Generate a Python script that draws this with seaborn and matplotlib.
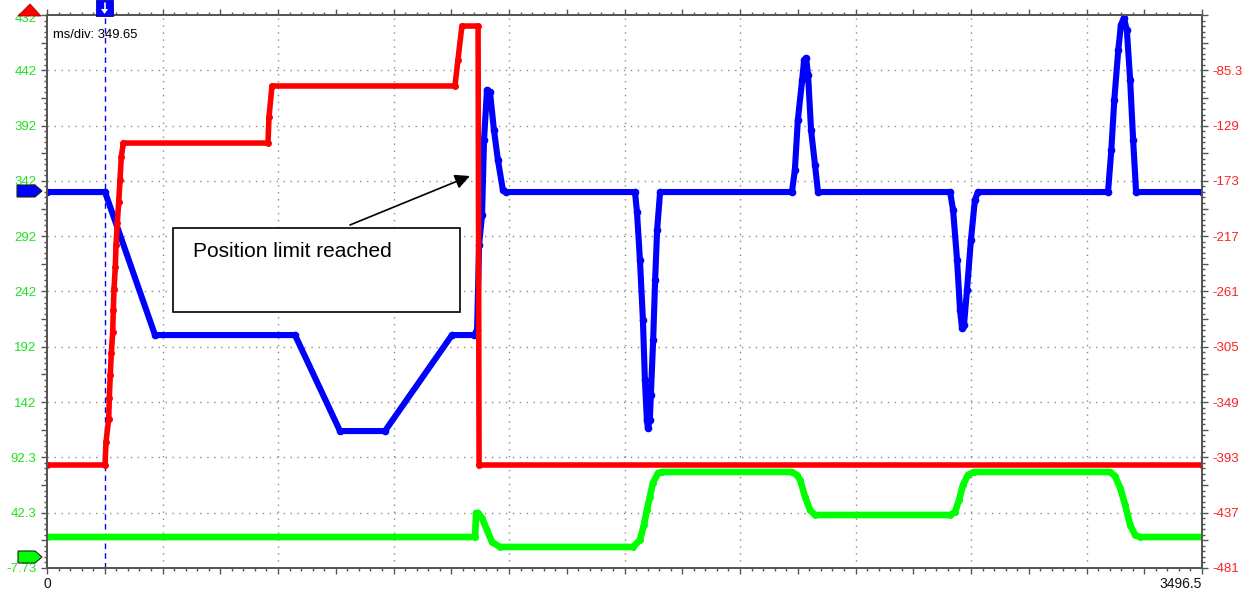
import numpy as np
import pandas as pd
import matplotlib
matplotlib.use("Agg")
import matplotlib.pyplot as plt
import matplotlib.transforms as mtransforms
import seaborn as sns
from matplotlib.patches import Polygon, Rectangle
from matplotlib.ticker import FixedLocator, FixedFormatter, MultipleLocator

# ---------------- data ----------------
MS_PER_DIV = 349.65
T_END = 3496.5

blue_t = [0, 175.6, 327, 750.8, 887, 1023, 1226, 1293, 1302, 1308, 1317, 1323, 1332, 1341,
          1353, 1365, 1380, 1390,
          1780, 1786, 1795, 1804, 1810, 1816, 1819, 1825, 1828, 1835, 1841, 1847, 1856,
          2255, 2264, 2273, 2286, 2292, 2298, 2304, 2313, 2325, 2334,
          2734, 2743, 2755, 2764, 2770, 2776, 2785, 2797, 2809, 2818,
          3212, 3222, 3231, 3243, 3251, 3260, 3269, 3279, 3288, 3297, 3496.5]
blue_v = [332.2, 332.2, 202.9, 202.9, 116.1, 116.1, 202.9, 202.9, 207.5, 284.3, 311.5, 379.3,
          424.5, 422.7, 388.3, 361.2, 334.1, 332.2,
          332.2, 314.2, 270.7, 216.5, 162.3, 126.1, 118.8, 126.1, 148.7, 198.4, 252.7, 297.9, 332.2,
          332.2, 352.1, 397.3, 433.5, 451.6, 453.4, 438.0, 388.3, 356.6, 332.2,
          332.2, 315.9, 270.7, 225.5, 209.3, 212.0, 243.6, 288.8, 325.0, 332.2,
          332.2, 370.2, 415.4, 460.6, 483.2, 489.6, 478.7, 433.5, 379.3, 332.2, 332.2]

red_t = [0, 175.6, 178.6, 186.8, 188.6, 191.6, 194.7, 198.9, 200.7, 202.8, 206.8, 208.9, 212.8,
         217.1, 221.0, 224.9, 231.0, 669.0, 672.0, 681.1, 1235, 1244, 1256, 1305, 1308, 3496.5]
red_v = [85.4, 85.4, 106.2, 127.0, 146.0, 166.8, 186.7, 205.6, 225.5, 244.5, 264.4, 284.3, 304.2,
         323.2, 343.1, 363.9, 376.5, 376.5, 400.0, 428.1, 428.1, 451.6, 482.3, 482.3, 85.4, 85.4]

green_t = [0, 1296, 1299, 1305, 1317, 1332, 1347, 1371,
           1774, 1795, 1807, 1816, 1825, 1834, 1850, 1862,
           2255, 2270, 2280, 2295, 2310, 2325,
           2734, 2749, 2761, 2773, 2788, 2806,
           3218, 3233, 3249, 3264, 3279, 3294, 3309, 3496.5]
green_v = [20.3, 20.3, 42.0, 42.0, 37.5, 26.6, 15.8, 11.3,
           11.3, 17.6, 31.2, 44.7, 56.5, 69.1, 78.2, 79.1,
           79.1, 76.4, 71.8, 56.5, 44.7, 40.2,
           40.2, 42.9, 53.8, 67.3, 76.4, 79.1,
           79.1, 75.5, 64.6, 49.2, 31.2, 22.1, 20.3, 20.3]

left_labels = ["-7.73", "42.3", "92.3", "142", "192", "242", "292", "342", "392", "442", "432"]
right_labels = ["-481", "-437", "-393", "-349", "-305", "-261", "-217", "-173", "-129", "-85.3", ""]
LEFT_MIN, LEFT_STEP = -7.73, 50.0
RIGHT_MIN, RIGHT_STEP = -481.0, 43.967
cursor_t = 175.6

# ---------------- style ----------------
sns.set_style("white")
plt.rcParams["font.family"] = ["Liberation Sans", "DejaVu Sans"]

W, H = 1253, 592
fig = plt.figure(figsize=(W / 100, H / 100), dpi=100)
L, R, T, B = 47, 1202, 15, 568
ax = fig.add_axes([L / W, 1 - B / H, (R - L) / W, (B - T) / H])

def fx(px):
    return px / W

def fy(py):
    return 1 - py / H

ax.set_xlim(0, T_END)
ax.set_ylim(LEFT_MIN, LEFT_MIN + 10 * LEFT_STEP)

# grid (manual, dotted)
for k in range(1, 10):
    ax.axvline(k * MS_PER_DIV, color="#8a8a8a", lw=1.0, ls=(0, (1, 4)), zorder=0)
    ax.axhline(LEFT_MIN + k * LEFT_STEP, color="#8a8a8a", lw=1.0, ls=(0, (1, 4)), zorder=0)

# cursor line
ax.axvline(cursor_t, color="#0000ff", lw=1.0, ls=(0, (4, 3)), zorder=1)

sns.lineplot(x=green_t, y=green_v, ax=ax, color="#00ff00", lw=4.8, marker="o",
             markersize=5, markeredgewidth=0, estimator=None, sort=False, zorder=2)
sns.lineplot(x=blue_t, y=blue_v, ax=ax, color="#0000ff", lw=4.4, marker="o",
             markersize=5.5, markeredgewidth=0, estimator=None, sort=False, zorder=3)
sns.lineplot(x=red_t, y=red_v, ax=ax, color="#ff0000", lw=4.0, marker="o",
             markersize=5, markeredgewidth=0, estimator=None, sort=False, zorder=4)

# ticks: x
x_major = [k * MS_PER_DIV / 2 for k in range(21)]
x_lab = [""] * 21
x_lab[0] = "0"
x_lab[-1] = "3496.5"
ax.xaxis.set_major_locator(FixedLocator(x_major))
ax.xaxis.set_major_formatter(FixedFormatter(x_lab))
ax.xaxis.set_minor_locator(MultipleLocator(MS_PER_DIV / 10))

# ticks: left y
y_major = [LEFT_MIN + k * LEFT_STEP / 2 for k in range(21)]
y_lab = [""] * 21
for i, s in enumerate(left_labels):
    y_lab[2 * i] = s
ax.yaxis.set_major_locator(FixedLocator(y_major))
ax.yaxis.set_major_formatter(FixedFormatter(y_lab))
ax.yaxis.set_minor_locator(FixedLocator([LEFT_MIN + k * LEFT_STEP / 10 for k in range(101)]))

spine_c = "#555555"
for s in ax.spines.values():
    s.set_color(spine_c)
    s.set_linewidth(1.3)

ax.tick_params(axis="both", which="major", direction="out", length=4.5, width=1.0, color=spine_c,
               labelsize=9.5)
ax.tick_params(axis="both", which="minor", direction="out", length=2.2, width=1.0, color=spine_c)
ax.tick_params(axis="x", which="both", top=True, bottom=True)
ax.tick_params(axis="x", which="major", pad=2, labelcolor="#111111", labelsize=10)
ax.tick_params(axis="y", which="major", pad=3, labelcolor="#22e022")
ax.set_xlabel("")
ax.set_ylabel("")

for lbl in ax.get_xticklabels():
    if lbl.get_text() == "3496.5":
        lbl.set_ha("right")

# top-left label sits slightly lower in the reference (partly under the red marker)
shift = mtransforms.ScaledTranslation(0, -3 / 100, fig.dpi_scale_trans)
for lbl in ax.get_yticklabels():
    if lbl.get_text() == "432":
        lbl.set_transform(lbl.get_transform() + shift)

# right axis
ax2 = ax.twinx()
ax2.set_ylim(RIGHT_MIN, RIGHT_MIN + 10 * RIGHT_STEP)
r_major = [RIGHT_MIN + k * RIGHT_STEP / 2 for k in range(21)]
r_lab = [""] * 21
for i, s in enumerate(right_labels):
    r_lab[2 * i] = s
ax2.yaxis.set_major_locator(FixedLocator(r_major))
ax2.yaxis.set_major_formatter(FixedFormatter(r_lab))
ax2.yaxis.set_minor_locator(FixedLocator([RIGHT_MIN + k * RIGHT_STEP / 10 for k in range(101)]))
ax2.tick_params(axis="y", which="major", direction="out", length=4.5, width=1.0, color=spine_c,
                labelsize=9.5, labelcolor="#ff2020", pad=3)
ax2.tick_params(axis="y", which="minor", direction="out", length=2.2, width=1.0, color=spine_c)
for s in ax2.spines.values():
    s.set_color(spine_c)
    s.set_linewidth(1.3)

# text: ms/div
ax.text(0.005, 0.975, "ms/div: 349.65", transform=ax.transAxes,
        fontsize=9.4, color="black", va="top", ha="left", zorder=6)

# annotation box
ax.add_patch(Rectangle((381.4, 223.7), 1250 - 381.4, 299.7 - 223.7, facecolor="white",
                       edgecolor="black", lw=1.2, zorder=5))
ax.text(442, 278, "Position limit reached", fontsize=15, color="black", va="center", ha="left",
        zorder=6)
ax.annotate("", xy=(1280, 346.7), xytext=(917, 302.4),
            arrowprops=dict(arrowstyle="-|>", color="black", lw=1.2, mutation_scale=22,
                            shrinkA=0, shrinkB=0), zorder=6)

# axis-edge markers (figure coordinates)
tri = Polygon([(fx(18), fy(16)), (fx(30), fy(4)), (fx(41), fy(16))], closed=True,
              facecolor="#ff0000", edgecolor="#aa0000", lw=0.6, transform=fig.transFigure, zorder=10)
fig.add_artist(tri)
blue_flag = Polygon([(fx(17), fy(185)), (fx(35), fy(185)), (fx(42), fy(191)), (fx(35), fy(197)),
                     (fx(17), fy(197))], closed=True, facecolor="#0000ff", edgecolor="#222222",
                    lw=0.8, transform=fig.transFigure, zorder=10)
fig.add_artist(blue_flag)
green_flag = Polygon([(fx(18), fy(551)), (fx(35), fy(551)), (fx(42), fy(557)), (fx(35), fy(563)),
                      (fx(18), fy(563))], closed=True, facecolor="#00ff00", edgecolor="#222222",
                     lw=0.8, transform=fig.transFigure, zorder=10)
fig.add_artist(green_flag)
cur_box = Rectangle((fx(96), fy(16)), fx(113) - fx(96), fy(0) - fy(16), facecolor="#0000ff",
                    edgecolor="#0000aa", lw=0.6, transform=fig.transFigure, zorder=10)
fig.add_artist(cur_box)
cur_tri = Polygon([(fx(101), fy(9)), (fx(108), fy(9)), (fx(104.5), fy(14))], closed=True,
                  facecolor="white", edgecolor="none", transform=fig.transFigure, zorder=11)
fig.add_artist(cur_tri)
fig.add_artist(plt.Line2D([fx(104.5), fx(104.5)], [fy(3), fy(9)], color="white", lw=1.2,
                          transform=fig.transFigure, zorder=11))

fig.savefig("out.png", dpi=100)
